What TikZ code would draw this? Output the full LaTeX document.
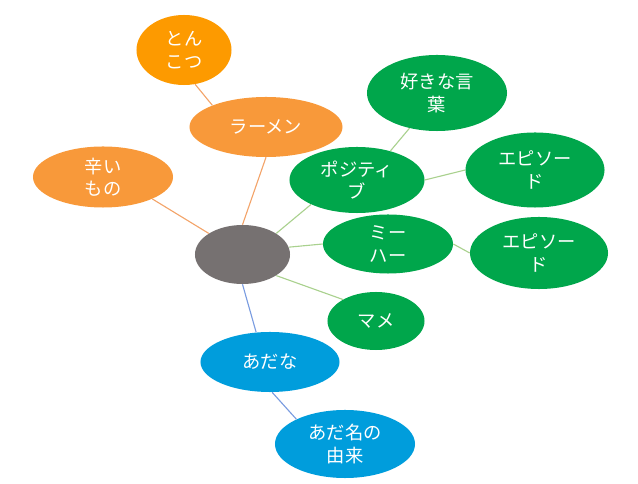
\documentclass[tikz,border=0pt]{standalone}
\usepackage{fontspec}
\newfontfamily\jpfont{Noto Sans CJK JP}
\usetikzlibrary{shapes.geometric}
\definecolor{hubgray}{HTML}{767171}
\definecolor{orangefill}{HTML}{F8993A}
\definecolor{deeporange}{HTML}{FD9A00}
\definecolor{greenfill}{HTML}{00A64B}
\definecolor{bluefill}{HTML}{009DDC}
\definecolor{orangeedge}{HTML}{F3A46A}
\definecolor{greenedge}{HTML}{A9D18E}
\definecolor{blueedge}{HTML}{7A9CE0}

\begin{document}
\begin{tikzpicture}[x=0.025cm,y=-0.025cm,
    bubble/.style={ellipse,inner sep=0pt,text=white,align=center,
        font=\jpfont\fontsize{13}{16}\selectfont},
    orangebub/.style={bubble,fill=orangefill},
    greenbub/.style={bubble,fill=greenfill},
    bluebub/.style={bubble,fill=bluefill},
    orangeline/.style={orangeedge,line width=0.8pt},
    greenline/.style={greenedge,line width=0.8pt},
    blueline/.style={blueedge,line width=0.8pt}]
    \useasboundingbox (0,0) rectangle (638,484);
    % centre
    \node[bubble,fill=hubgray,minimum width=2.375cm,minimum height=1.475cm] (hub) at (242.5,254.5) {};
    % orange branch
    \node[orangebub,fill=deeporange,minimum width=2.375cm,minimum height=1.75cm] (tonkotsu) at (184,50) {とん\\こつ};
    \node[orangebub,minimum width=3.825cm,minimum height=1.5cm] (ramen) at (266,127) {ラーメン};
    \node[orangebub,minimum width=3.5cm,minimum height=1.525cm] (karai) at (103,177) {辛い\\もの};
    % green branch
    \node[greenbub,minimum width=3.5cm,minimum height=1.9cm] (kotoba) at (437,93) {好きな言\\葉};
    \node[greenbub,minimum width=3.375cm,minimum height=1.65cm] (positive) at (357,180) {ポジティ\\ブ};
    \node[greenbub,minimum width=3.475cm,minimum height=1.875cm] (episodeA) at (535,170) {エピソー\\ド};
    \node[greenbub,minimum width=3.25cm,minimum height=1.475cm] (meehaa) at (388,244) {ミー\\ハー};
    \node[greenbub,minimum width=3.45cm,minimum height=1.8cm] (episodeB) at (539,253) {エピソー\\ド};
    \node[greenbub,minimum width=2.425cm,minimum height=1.45cm] (mame) at (376,321) {マメ};
    % blue branch
    \node[bluebub,minimum width=3.475cm,minimum height=1.5cm] (adana) at (270,362) {あだな};
    \node[bluebub,minimum width=3.5cm,minimum height=1.7cm] (yurai) at (345,444) {あだ名の\\由来};
    % connectors
    \draw[orangeline] (hub.90) -- (ramen.-90);
    \draw[orangeline] (ramen.158) -- (tonkotsu.-72);
    \draw[orangeline] (hub.148) -- (karai.-24);
    \draw[greenline] (hub.32) -- (positive.-152);
    \draw[greenline] (positive.41) -- (kotoba.-128);
    \draw[greenline] (positive.0) -- (episodeA.180);
    \draw[greenline] (hub.9) -- (meehaa.180);
    \draw[greenline] (meehaa.0) -- (episodeB.180);
    \draw[greenline] (hub.-32) -- (mame.147);
    \draw[blueline] (hub.-90) -- (adana.115);
    \draw[blueline] (adana.-86) -- (yurai.153);
\end{tikzpicture}
\end{document}
